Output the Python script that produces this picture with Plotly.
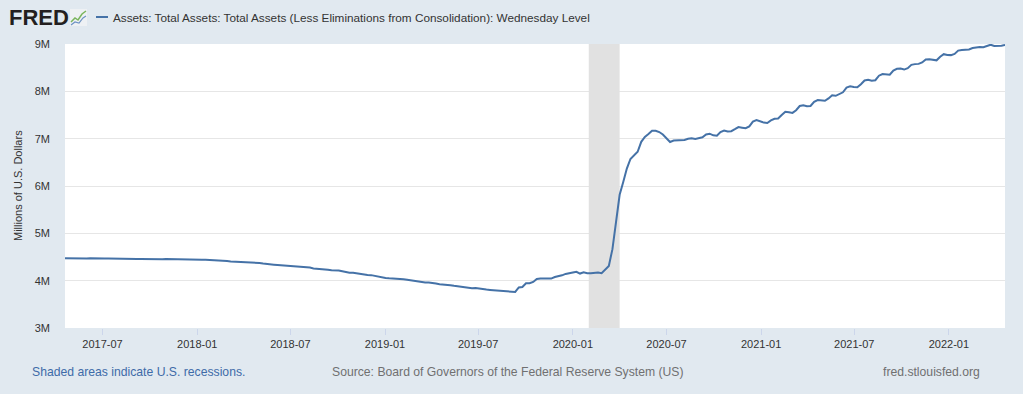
import plotly.graph_objects as go
import pandas as pd

# ---- data (millions of U.S. dollars, shown in units of 1M = 1,000,000 million) ----
start_date = "2017-04-19"
end_date = "2022-04-20"

v2017 = [4.475, 4.472,
         4.476, 4.474, 4.469, 4.471, 4.466,
         4.472, 4.468, 4.461, 4.463,
         4.467, 4.466, 4.463, 4.459,
         4.461, 4.463, 4.457, 4.458, 4.455,
         4.457, 4.458, 4.455, 4.456,
         4.458, 4.457, 4.450, 4.452,
         4.456, 4.456, 4.451, 4.448, 4.447,
         4.452, 4.448, 4.443, 4.449]
v2018 = [4.446, 4.441, 4.440, 4.437, 4.438,
         4.430, 4.418, 4.416, 4.414,
         4.404, 4.401, 4.397, 4.398,
         4.391, 4.386, 4.378, 4.372,
         4.373, 4.361, 4.348, 4.338, 4.337,
         4.330, 4.325, 4.317, 4.316,
         4.313, 4.303, 4.294, 4.290,
         4.283, 4.276, 4.259, 4.254, 4.253,
         4.248, 4.232, 4.218, 4.220,
         4.213, 4.197, 4.177, 4.168, 4.168,
         4.153, 4.142, 4.120, 4.119,
         4.117, 4.100, 4.084, 4.076]
v2019 = [4.058, 4.050, 4.047, 4.033, 4.036,
         4.031, 4.018, 4.005, 3.998,
         3.990, 3.979, 3.960, 3.962,
         3.956, 3.938, 3.924, 3.922,
         3.917, 3.905, 3.891, 3.879, 3.874,
         3.862, 3.856, 3.841, 3.845,
         3.839, 3.826, 3.811, 3.804, 3.798,
         3.792, 3.777, 3.771, 3.764,
         3.763, 3.761, 3.858, 3.867,
         3.946, 3.945, 3.973, 4.035, 4.048,
         4.045, 4.048, 4.044, 4.076,
         4.089, 4.113, 4.143, 4.165]
v2020 = [4.173, 4.188, 4.150, 4.176, 4.155,
         4.157, 4.171, 4.174, 4.159,
         4.241, 4.312, 4.666, 5.254,
         5.814, 6.083, 6.368, 6.570, 6.656,
         6.723, 6.934, 7.037, 7.097,
         7.166, 7.167, 7.140, 7.087,
         7.000, 6.930, 6.960, 6.962, 6.960,
         6.973, 6.998, 7.010, 6.995,
         7.009, 7.031, 7.088, 7.105, 7.070,
         7.062, 7.140, 7.172, 7.150,
         7.158, 7.200, 7.245, 7.233,
         7.220, 7.260, 7.362, 7.395, 7.365]
v2021 = [7.340, 7.330, 7.385, 7.420,
         7.425, 7.500, 7.570, 7.560,
         7.545, 7.600, 7.690, 7.705, 7.685,
         7.690, 7.780, 7.815, 7.800,
         7.800, 7.850, 7.915, 7.905,
         7.945, 7.980, 8.080, 8.105, 8.090,
         8.085, 8.150, 8.230, 8.245,
         8.225, 8.235, 8.330, 8.365,
         8.355, 8.350, 8.440, 8.475, 8.480,
         8.460, 8.490, 8.560, 8.575,
         8.580, 8.610, 8.675, 8.680,
         8.665, 8.655, 8.730, 8.785, 8.770]
v2022 = [8.765, 8.790, 8.860, 8.875,
         8.880, 8.885, 8.915, 8.930,
         8.935, 8.930, 8.965, 8.985, 8.960,
         8.955, 8.965, 8.980]

recession_start = ["2020-02-01"]
recession_end = ["2020-04-01"]

y_ticks = [3, 4, 5, 6, 7, 8, 9]
y_labels = ["3M", "4M", "5M", "6M", "7M", "8M", "9M"]
x_ticks = ["2017-07-01", "2018-01-01", "2018-07-01", "2019-01-01", "2019-07-01",
           "2020-01-01", "2020-07-01", "2021-01-01", "2021-07-01", "2022-01-01"]

series_name = "Assets: Total Assets: Total Assets (Less Eliminations from Consolidation): Wednesday Level"
y_title = "Millions of U.S. Dollars"

values = v2017 + v2018 + v2019 + v2020 + v2021 + v2022
dates = pd.date_range(start_date, end_date, freq="7D")
assert len(dates) == len(values), (len(dates), len(values))

# ---- figure ----
W, H = 1023, 394
ML, MR, MT, MB = 65, 18, 44, 66
PW, PH = W - ML - MR, H - MT - MB


def px(x):
    return (x - ML) / PW


def py(y):
    return (H - MB - y) / PH


fig = go.Figure()

# recession shading (drawn as a filled trace so it sits above gridlines but below the line)
for s, e in zip(recession_start, recession_end):
    fig.add_trace(go.Scatter(
        x=[s, s, e, e, s], y=[y_ticks[0], y_ticks[-1], y_ticks[-1], y_ticks[0], y_ticks[0]],
        mode="lines", fill="toself", fillcolor="#e1e1e1", line=dict(width=0),
        hoverinfo="skip", showlegend=False))

fig.add_trace(go.Scatter(
    x=dates, y=values, mode="lines", name=series_name,
    line=dict(color="#4572a7", width=2), showlegend=False))

FONT = "Liberation Sans, Arial, sans-serif"

fig.update_layout(
    width=W, height=H,
    margin=dict(l=ML, r=MR, t=MT, b=MB, pad=0),
    paper_bgcolor="#e1e9f0",
    plot_bgcolor="#ffffff",
    font=dict(family=FONT, color="#333333", size=11),
    showlegend=False,
    xaxis=dict(
        range=[dates[0], dates[-1]],
        tickvals=x_ticks, tickformat="%Y-%m",
        ticks="outside", ticklen=6, tickcolor="#ccd6eb", tickwidth=1,
        showgrid=False, zeroline=False, showline=False,
        tickfont=dict(size=11, color="#333333"),
    ),
    yaxis=dict(
        range=[y_ticks[0], y_ticks[-1]],
        tickvals=y_ticks, ticktext=y_labels,
        showgrid=True, gridcolor="#e6e6e6", gridwidth=1,
        zeroline=False, showline=False, ticks="",
        ticklabelstandoff=14,
        tickfont=dict(size=11, color="#333333"),
    ),
)

annotations = [
    dict(text="<b>FRED</b>", x=px(7), y=py(17), xanchor="left", yanchor="middle",
         font=dict(size=22, color="#231f20", family=FONT)),
    dict(text=series_name, x=px(111), y=py(17), xanchor="left", yanchor="middle",
         font=dict(size=11.75, color="#333333", family=FONT)),
    dict(text=y_title, x=px(18), y=0.5, xanchor="center", yanchor="middle", textangle=-90,
         font=dict(size=11, color="#333333", family=FONT)),
    dict(text="Shaded areas indicate U.S. recessions.", x=px(30), y=py(372),
         xanchor="left", yanchor="middle", font=dict(size=12.2, color="#3e6ba8", family=FONT)),
    dict(text="Source: Board of Governors of the Federal Reserve System (US)", x=px(330), y=py(372),
         xanchor="left", yanchor="middle", font=dict(size=12.2, color="#707070", family=FONT)),
    dict(text="fred.stlouisfed.org", x=px(881), y=py(372),
         xanchor="left", yanchor="middle", font=dict(size=12.2, color="#707070", family=FONT)),
]
for a in annotations:
    a.update(xref="paper", yref="paper", showarrow=False)
fig.update_layout(annotations=annotations)

shapes = [
    # legend line sample
    dict(type="line", xref="paper", yref="paper", x0=px(96), x1=px(108), y0=py(17), y1=py(17),
         line=dict(color="#4572a7", width=2)),
    # FRED logo icon
    dict(type="rect", xref="paper", yref="paper", x0=px(70), x1=px(87), y0=py(26), y1=py(9),
         fillcolor="#eef1f4", line=dict(width=0)),
    dict(type="path", xref="paper", yref="paper",
         path=f"M {px(71)},{py(22)} L {px(75)},{py(18)} L {px(78)},{py(20)} L {px(82)},{py(14)} L {px(86)},{py(11)}",
         line=dict(color="#7ab55c", width=1.5)),
    dict(type="path", xref="paper", yref="paper",
         path=f"M {px(71)},{py(25)} L {px(75)},{py(22)} L {px(79)},{py(23)} L {px(83)},{py(18)} L {px(86)},{py(16)}",
         line=dict(color="#6d93c4", width=1.2)),
]
fig.update_layout(shapes=shapes)

fig.write_html(
    "out.html",
    config={"displayModeBar": False},
    post_script="document.body.style.margin='0';document.body.style.padding='0';"
                "document.body.style.background='#e1e9f0';"
                "document.documentElement.style.overflow='hidden';",
)
